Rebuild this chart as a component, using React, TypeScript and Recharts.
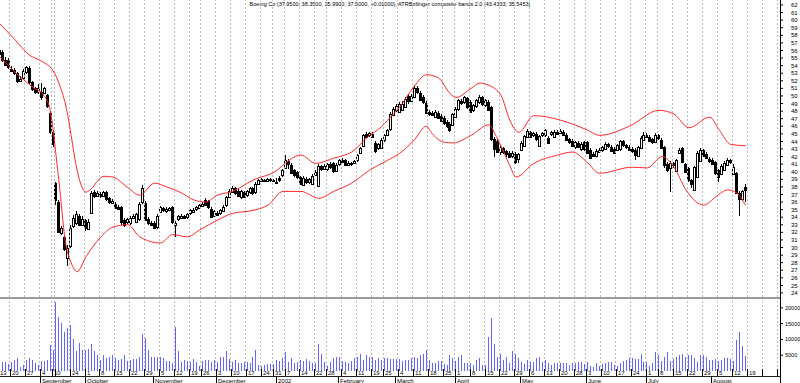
import { ComposedChart, Bar, Line, XAxis, YAxis, ReferenceLine } from "recharts";

// calendar: first trading day label of each week and trading days in it
const weekLabels = [
  "13", "20", "27",
  "4", "10", "17", "24",
  "1", "8", "15", "22", "29",
  "5", "12", "19", "26",
  "3", "10", "17", "24", "31",
  "7", "14", "22", "28",
  "4", "11", "19", "25",
  "4", "11", "18", "25",
  "1", "8", "15", "22", "29",
  "6", "13", "20", "28",
  "3", "10", "17", "24",
  "1", "8", "15", "22", "29",
  "5", "12", "19", "26",
  "3",
];
const weekLens = [
  5, 5, 5,
  4, 1, 5, 5,
  5, 5, 5, 5, 5,
  5, 5, 4, 5,
  5, 5, 5, 4, 4,
  5, 5, 4, 5,
  5, 5, 4, 5,
  5, 5, 5, 4,
  5, 5, 5, 5, 5,
  5, 5, 5, 4,
  5, 5, 5, 5,
  4, 5, 5, 5, 5,
  5, 5, 5, 5,
  1,
];
const monthLabels = ["September", "October", "November", "December", "2002", "February", "March", "April", "May", "June", "July", "August"];
const monthStarts = [15, 30, 53, 74, 94, 115, 134, 154, 176, 198, 218, 240];

const opens = [
  56.6, 56.1, 55.8, 54.8, 54.7, 53.6, 53.4, 53.0, 52.0, 52.4,
  53.1, 53.7, 51.8, 51.0, 50.5, 50.5, 50.4, 50.1, 47.8, 45.2,
  38.5, 36.0, 31.9, 31.4, 28.7, 30.2, 32.8, 33.2, 34.2, 33.0,
  33.6, 32.5, 34.6, 37.3, 36.8, 37.0, 36.8, 37.3, 36.5, 36.0,
  35.8, 35.4, 35.3, 33.6, 33.3, 33.2, 33.9, 33.4, 33.8, 36.0,
  35.9, 33.7, 33.3, 33.3, 32.7, 34.7, 35.2, 34.8, 35.0, 35.3,
  33.0, 33.7, 34.0, 34.1, 34.0, 34.5, 34.8, 35.0, 35.2, 35.6,
  36.3, 36.1, 35.1, 34.2, 34.6, 34.5, 34.9, 35.5, 36.7, 37.4,
  37.8, 37.5, 36.6, 37.3, 36.9, 37.3, 37.8, 37.3, 38.4, 38.8,
  38.9, 38.8, 39.0, 38.9, 38.7, 39.2, 39.5, 40.6, 41.4, 40.9,
  40.2, 39.9, 39.3, 38.3, 39.0, 38.6, 38.4, 39.6, 38.2, 40.7,
  40.4, 40.3, 41.0, 41.1, 40.1, 41.0, 41.5, 41.5, 41.0, 41.1,
  41.2, 41.5, 42.5, 43.4, 45.0, 44.8, 45.0, 43.8, 43.1, 43.2,
  44.1, 44.9, 45.6, 47.5, 48.2, 47.9, 48.2, 48.6, 50.0, 49.4,
  49.9, 51.0, 50.4, 49.9, 49.1, 47.9, 47.7, 47.3, 47.8, 47.4,
  47.1, 46.5, 46.3, 46.2, 47.3, 48.2, 49.3, 49.2, 49.7, 49.2,
  48.1, 48.6, 49.2, 49.8, 48.8, 49.2, 48.5, 44.3, 44.1, 42.6,
  43.1, 42.7, 42.5, 42.1, 42.4, 41.6, 42.9, 43.4, 44.6, 45.2,
  44.8, 45.0, 43.4, 44.8, 44.8, 44.5, 44.9, 44.6, 45.3, 45.2,
  45.3, 44.9, 44.3, 44.1, 43.2, 43.8, 43.0, 43.9, 43.9, 42.9,
  42.4, 42.1, 42.7, 42.8, 43.1, 43.6, 43.3, 43.0, 42.9, 42.9,
  44.0, 43.5, 43.3, 43.0, 42.9, 42.0, 43.2, 44.3, 44.8, 44.6,
  44.3, 44.0, 44.8, 44.2, 43.3, 41.0, 40.6, 41.1, 40.0, 42.5,
  43.1, 41.0, 40.5, 38.9, 37.6, 39.3, 41.4, 42.9, 42.4, 41.7,
  41.6, 41.3, 40.2, 39.8, 40.3, 41.0, 41.5, 39.7, 39.8, 37.2,
  36.5, 37.95,
];
const highs = [
  56.9, 56.4, 56.1, 55.2, 55.0, 53.9, 53.7, 53.2, 52.6, 53.5,
  54.0, 53.9, 52.0, 51.2, 51.6, 51.7, 51.2, 50.3, 48.0, 45.5,
  38.7, 36.3, 32.9, 31.6, 30.3, 33.0, 34.3, 34.8, 34.4, 34.2,
  33.8, 33.7, 37.5, 37.6, 37.5, 37.3, 37.5, 37.5, 36.7, 36.4,
  36.0, 35.6, 35.5, 33.9, 33.9, 34.1, 34.4, 34.6, 36.0, 38.2,
  36.1, 34.0, 33.5, 33.5, 34.4, 35.5, 35.4, 35.3, 35.4, 35.5,
  33.5, 34.3, 34.4, 34.3, 34.6, 35.1, 35.2, 35.5, 35.7, 36.0,
  36.5, 36.3, 35.3, 35.0, 34.8, 35.1, 35.6, 36.8, 37.7, 38.1,
  38.0, 37.7, 37.6, 37.5, 37.6, 38.0, 38.0, 38.6, 39.1, 39.2,
  39.1, 39.2, 39.2, 39.1, 39.2, 39.4, 40.4, 42.2, 41.7, 41.1,
  40.4, 40.1, 39.5, 39.4, 39.3, 39.2, 39.7, 40.2, 41.0, 40.9,
  41.0, 41.2, 41.3, 41.3, 41.1, 41.7, 41.8, 41.7, 41.4, 41.3,
  41.6, 42.4, 43.3, 45.0, 45.3, 45.3, 45.2, 44.0, 43.8, 44.4,
  45.0, 45.7, 47.9, 48.5, 48.9, 49.2, 49.3, 49.9, 50.3, 50.2,
  51.4, 51.3, 50.6, 50.1, 49.3, 48.2, 48.0, 48.1, 48.0, 47.6,
  47.3, 46.8, 46.5, 47.8, 48.5, 49.6, 49.6, 50.0, 49.9, 49.4,
  49.0, 49.6, 50.1, 50.0, 49.6, 49.4, 48.7, 44.6, 44.3, 43.5,
  43.3, 42.9, 42.7, 42.7, 42.6, 42.5, 44.0, 44.9, 45.6, 45.4,
  45.3, 45.2, 44.9, 45.3, 45.7, 44.7, 45.4, 45.5, 45.5, 45.6,
  45.5, 45.1, 44.5, 44.3, 44.1, 44.0, 43.9, 44.1, 44.1, 43.1,
  42.6, 43.0, 43.1, 43.4, 43.9, 43.8, 43.5, 43.2, 43.7, 44.2,
  44.2, 43.7, 43.5, 43.3, 43.1, 43.4, 44.7, 45.2, 45.1, 44.8,
  44.5, 45.1, 45.0, 44.4, 43.4, 41.3, 41.4, 41.3, 41.7, 43.1,
  43.3, 41.1, 40.6, 39.1, 40.8, 42.8, 43.1, 43.0, 42.6, 41.9,
  41.8, 41.4, 40.4, 41.0, 41.4, 41.8, 41.7, 41.0, 40.0, 37.4,
  37.6, 38.35,
];
const lows = [
  55.8, 55.3, 54.5, 54.0, 53.6, 53.1, 52.8, 51.7, 51.9, 52.2,
  52.9, 51.6, 50.7, 50.3, 50.3, 49.5, 50.2, 48.4, 45.0, 43.3,
  35.6, 31.9, 31.7, 29.5, 27.6, 30.0, 32.6, 33.0, 32.8, 32.8,
  32.2, 32.3, 34.4, 36.5, 36.6, 36.5, 36.6, 36.2, 35.8, 35.8,
  35.1, 34.9, 33.0, 32.7, 33.1, 33.0, 33.7, 33.2, 33.5, 35.8,
  33.5, 33.0, 32.8, 32.4, 32.5, 34.5, 34.7, 34.6, 34.8, 33.1,
  31.4, 33.5, 33.8, 33.7, 33.8, 34.3, 34.6, 34.8, 35.1, 35.4,
  35.5, 35.1, 33.9, 34.0, 34.2, 34.3, 34.7, 35.3, 36.5, 37.2,
  36.9, 36.6, 36.4, 36.5, 36.7, 37.1, 36.9, 37.1, 38.2, 38.6,
  38.6, 38.6, 38.7, 38.6, 38.4, 38.7, 39.3, 40.4, 40.4, 39.7,
  39.3, 39.1, 38.2, 38.1, 38.4, 38.4, 38.2, 39.4, 38.0, 40.1,
  40.2, 40.1, 40.4, 39.8, 39.9, 40.8, 41.1, 40.7, 40.8, 40.8,
  41.0, 41.3, 42.3, 43.2, 44.4, 44.6, 44.4, 42.5, 42.9, 43.0,
  43.9, 44.7, 45.4, 47.3, 47.9, 47.7, 48.0, 48.4, 49.0, 49.2,
  49.7, 50.3, 49.3, 49.0, 47.6, 47.4, 47.3, 47.1, 47.0, 46.6,
  46.2, 45.8, 45.3, 46.0, 47.1, 48.0, 48.8, 49.0, 48.3, 47.7,
  47.9, 48.4, 49.0, 48.7, 48.6, 48.0, 44.1, 41.9, 42.5, 42.2,
  42.4, 42.0, 41.8, 41.8, 41.0, 41.2, 42.7, 43.2, 44.4, 44.4,
  44.6, 44.1, 43.2, 44.6, 44.6, 43.6, 44.7, 44.4, 44.8, 45.0,
  44.7, 44.1, 43.7, 43.2, 43.0, 43.1, 42.8, 42.8, 42.3, 41.7,
  42.0, 41.9, 42.5, 42.6, 42.9, 43.1, 42.6, 42.3, 42.7, 42.7,
  43.3, 43.0, 42.7, 42.5, 41.6, 41.9, 43.0, 44.1, 44.4, 43.9,
  43.7, 43.9, 44.2, 43.0, 40.5, 40.0, 37.3, 40.5, 39.9, 42.3,
  41.1, 39.8, 38.7, 37.8, 37.5, 39.2, 41.3, 41.9, 41.7, 41.2,
  40.9, 39.6, 38.7, 39.6, 40.1, 40.8, 41.0, 39.6, 37.0, 34.1,
  36.2, 35.99,
];
const closes = [
  56.0, 55.6, 54.8, 54.2, 53.8, 53.3, 53.0, 51.9, 52.3, 53.3,
  53.8, 51.8, 50.9, 50.5, 51.0, 49.8, 51.0, 48.6, 45.3, 43.6,
  36.2, 32.1, 32.6, 29.8, 30.0, 32.6, 33.9, 34.4, 33.0, 33.8,
  32.5, 33.4, 37.2, 36.8, 37.2, 36.7, 37.3, 36.4, 36.0, 36.2,
  35.3, 35.1, 33.3, 32.9, 33.7, 33.9, 34.2, 34.4, 35.8, 37.9,
  33.7, 33.2, 33.0, 32.6, 34.2, 35.3, 34.9, 35.1, 35.2, 33.3,
  33.3, 34.1, 34.2, 33.9, 34.4, 34.9, 35.0, 35.3, 35.6, 35.8,
  35.7, 35.3, 34.1, 34.8, 34.4, 34.9, 35.4, 36.6, 37.5, 37.9,
  37.1, 36.8, 37.4, 36.7, 37.4, 37.8, 37.1, 38.4, 38.9, 39.0,
  38.8, 39.0, 38.9, 38.8, 38.6, 38.9, 40.2, 41.6, 41.0, 39.9,
  39.5, 39.3, 38.4, 39.2, 38.6, 39.0, 39.5, 40.0, 40.8, 40.3,
  40.8, 41.0, 40.6, 40.0, 40.9, 41.5, 41.3, 40.9, 41.2, 41.0,
  41.4, 42.2, 43.1, 44.8, 44.6, 45.1, 44.6, 42.7, 43.6, 44.2,
  44.8, 45.5, 47.6, 48.3, 48.7, 48.9, 49.0, 49.6, 49.3, 50.0,
  51.1, 50.5, 49.5, 49.2, 47.8, 47.6, 47.5, 47.9, 47.2, 46.8,
  46.4, 46.0, 45.5, 47.6, 48.3, 49.4, 49.0, 49.8, 48.5, 47.9,
  48.8, 49.4, 49.9, 48.9, 49.4, 48.2, 44.3, 43.0, 42.7, 43.2,
  42.6, 42.3, 42.0, 42.5, 41.4, 42.3, 43.8, 44.7, 45.4, 44.6,
  45.1, 44.3, 44.7, 45.1, 45.5, 43.8, 45.2, 45.3, 45.0, 45.4,
  44.9, 44.3, 43.9, 43.4, 43.9, 43.3, 43.7, 43.0, 42.5, 41.9,
  42.2, 42.8, 42.9, 43.2, 43.7, 43.3, 42.8, 42.5, 43.5, 44.0,
  43.5, 43.2, 42.9, 42.8, 42.2, 43.2, 44.5, 44.9, 44.6, 44.1,
  43.9, 44.9, 44.4, 43.2, 40.9, 40.2, 41.2, 40.8, 41.5, 42.9,
  41.3, 40.0, 38.9, 38.4, 40.6, 42.5, 42.9, 42.1, 41.9, 41.4,
  41.1, 39.8, 39.3, 40.8, 41.2, 41.6, 41.3, 40.6, 37.2, 36.4,
  37.49, 37.5,
];
const volumes = [
  3000, 3000, 2900, 2900, 2100, 2900, 3400, 4000, 1400, 1900,
  3400, 4200, 3400, 2400, 1900, 3100, 3100, 3600, 8200, 6600,
  21700, 17100, 15200, 12200, 13500, 14500, 10100, 6300, 9000, 6600,
  6800, 6900, 8700, 6300, 5000, 3400, 5000, 4200, 4500, 5200,
  4000, 3400, 3800, 5200, 3100, 3400, 3800, 3800, 4500, 11600,
  10300, 6600, 4300, 4300, 4300, 4500, 4000, 3100, 3100, 2400,
  14000, 6300, 2700, 3400, 3100, 2900, 3700, 2700, 1600, 3100,
  3400, 3400, 2900, 3400, 2700, 4500, 4500, 6300, 3800, 2700,
  3600, 2400, 2400, 2700, 2900, 2400, 4500, 6800, 1900, 1600,
  1900, 2100, 2100, 2100, 3400, 3100, 4000, 5900, 2700, 4000,
  2400, 2700, 3400, 3100, 3800, 3100, 2400, 2400, 8700, 5500,
  2700, 1600, 2900, 4000, 4300, 4300, 3100, 2900, 2400, 3100,
  4000, 4500, 5500, 3400, 5000, 4500, 4500, 3400, 4000, 3400,
  4000, 4000, 3800, 3800, 3800, 3800, 3100, 3400, 3400, 4000,
  4500, 4000, 5000, 5500, 6600, 3400, 2400, 2400, 3100, 3100,
  2100, 1900, 5000, 4000, 3100, 4500, 5000, 2400, 2400, 2400,
  1900, 3400, 4000, 1900, 1900, 10800, 16800, 8700, 4500, 5500,
  3400, 4500, 2400, 6300, 5500, 4200, 2700, 2100, 3400, 2700,
  2700, 4200, 4500, 2700, 3400, 2400, 1900, 2400, 2400, 2400,
  2400, 2400, 1900, 2400, 2400, 2700, 2700, 2100, 2700, 1600,
  1300, 2400, 1600, 2100, 2400, 2700, 2700, 1800, 1600, 2400,
  3100, 3400, 4000, 4000, 3800, 3800, 5500, 2700, 2700, 1600,
  2400, 6100, 5000, 3100, 4500, 5900, 3100, 3800, 4500, 5000,
  5500, 4500, 5000, 5000, 4000, 2900, 5200, 5000, 4500, 3400,
  3400, 3800, 3100, 3400, 4000, 4000, 3800, 3100, 9800, 12400,
  7800, 4700,
];

// band values read at [day index, price]
const upperBand: [number, number][] = [
  [0, 60.0], [6, 57.5], [11, 55.4], [15, 54.6], [19, 53.3], [21, 51.6], [24, 47.2], [25, 44.8],
  [27, 40.2], [30, 37.3], [31, 37.5], [36, 39.4], [39, 39.3], [44, 37.9], [48, 36.9], [53, 38.5],
  [57, 38.0], [62, 37.2], [66, 36.3], [70, 36.0], [74, 36.9], [79, 37.4], [86, 38.9], [94, 40.2],
  [97, 41.2], [102, 42.2], [107, 41.1], [113, 41.8], [119, 42.6], [125, 44.8], [128, 45.6],
  [132, 47.2], [135, 48.5], [140, 51.3], [144, 52.8], [148, 52.4], [152, 50.3], [154, 49.8],
  [159, 51.0], [162, 51.7], [165, 51.4], [169, 50.1], [172, 46.8], [175, 45.2], [180, 47.4],
  [189, 46.8], [198, 45.5], [202, 44.8], [212, 46.0], [222, 48.1], [227, 47.6], [232, 45.8],
  [239, 47.2], [242, 45.6], [246, 43.6], [251, 43.43],
];
const lowerBand: [number, number][] = [
  [0, 55.6], [8, 52.5], [12, 51.2], [16, 50.0], [18, 48.1], [19, 45.5], [20, 42.0], [21, 38.5],
  [23, 31.0], [25, 28.0], [27, 26.8], [30, 28.8], [35, 31.4], [39, 32.7], [44, 33.0], [48, 31.4],
  [55, 30.6], [59, 31.7], [64, 31.4], [68, 32.3], [74, 33.6], [79, 34.5], [86, 34.9], [91, 35.6],
  [96, 37.4], [102, 37.4], [108, 36.5], [113, 37.4], [119, 38.5], [125, 40.2], [131, 41.5],
  [135, 42.4], [140, 44.2], [144, 46.0], [146, 45.0], [150, 43.9], [153, 43.8], [159, 44.8],
  [165, 46.2], [167, 45.0], [169, 43.4], [172, 40.8], [174, 39.3], [180, 41.1], [188, 42.2],
  [193, 42.6], [198, 41.2], [202, 39.8], [213, 40.6], [218, 40.5], [223, 42.0], [227, 40.6],
  [231, 37.6], [237, 35.6], [241, 36.7], [245, 37.6], [248, 37.2], [251, 35.55],
];

const priceTicks = [24, 25, 26, 27, 28, 29, 30, 31, 32, 33, 34, 35, 36, 37, 38, 39, 40, 41, 42, 43, 44, 45, 46, 47, 48, 49, 50, 51, 52, 53, 54, 55, 56, 57, 58, 59, 60, 61, 62];
const volumeTicks = [5000, 10000, 15000, 20000];

const FONT = "'Liberation Sans', Arial, sans-serif";
const PLOT_W = 785;
const SHIFT = 5; // chart svg starts 5px left of the page edge
const slotCount = weekLens.reduce((a, b) => a + b, 0);
const BAND = PLOT_W / slotCount;

const weekStarts: number[] = [];
weekLens.reduce((acc, n) => {
  weekStarts.push(acc);
  return acc + n;
}, 0);
const weekAt = new Map(weekStarts.map((s, k) => [s, k]));
const monthAt = new Map(monthStarts.map((s, k) => [s, monthLabels[k]]));
const axisTicks = Array.from(new Set([...weekStarts, ...monthStarts])).sort((a, b) => a - b);

const upperAt = new Map(upperBand);
const lowerAt = new Map(lowerBand);

const rows = Array.from({ length: slotCount }, (_, i) => {
  const has = i < closes.length;
  return {
    i,
    range: has ? [lows[i], highs[i]] : null,
    open: opens[i],
    high: highs[i],
    low: lows[i],
    close: closes[i],
    vol: has ? volumes[i] : null,
    upper: upperAt.get(i) ?? null,
    lower: lowerAt.get(i) ?? null,
  };
});

function Candle(props: any) {
  const { x, y, width, height, payload } = props;
  if (!payload || payload.range == null) return null;
  const top = Math.min(y, y + height);
  const h = Math.abs(height);
  const span = payload.high - payload.low;
  const py = (v: number) => (span ? top + ((payload.high - v) / span) * h : top);
  const cx = Math.floor(x + width / 2) + 0.5;
  const yo = py(payload.open);
  const yc = py(payload.close);
  const up = payload.close >= payload.open;
  const bt = Math.round(Math.min(yo, yc)) + 0.5;
  const bh = Math.max(1, Math.round(Math.abs(yc - yo)));
  return (
    <g shapeRendering="crispEdges">
      <line x1={cx} x2={cx} y1={top} y2={top + h} stroke="#000" strokeWidth={1} />
      <rect x={cx - 1} y={bt} width={2} height={bh} fill={up ? "#fff" : "#000"} stroke="#000" strokeWidth={1} />
    </g>
  );
}

function VolBar(props: any) {
  const { x, y, width, height } = props;
  if (!height) return null;
  const cx = Math.floor(x + width / 2);
  return <rect x={cx} y={y} width={1} height={height} fill="#6464ff" shapeRendering="crispEdges" />;
}

function DateTick(props: any) {
  const { x, payload } = props;
  const i = payload.value as number;
  const gx = Math.round(x - BAND / 2) + 0.5;
  const k = weekAt.get(i);
  const month = monthAt.get(i);
  const showDay = k !== undefined && !(k > 0 && weekLens[k - 1] < 2) && gx < 765;
  return (
    <g fontFamily={FONT} fontSize={6} fill="#000">
      {k !== undefined && <line x1={gx} x2={gx} y1={71} y2={78} stroke="#000" shapeRendering="crispEdges" />}
      {showDay && (
        <text x={Math.max(gx + 1.5, SHIFT)} y={77} textAnchor="start">
          {weekLabels[k!]}
        </text>
      )}
      {month && (
        <>
          <line x1={gx} x2={gx} y1={78} y2={85} stroke="#000" shapeRendering="crispEdges" />
          <text x={gx + 1.5} y={84.5} textAnchor="start">
            {month}
          </text>
        </>
      )}
    </g>
  );
}

const gridLines = weekStarts.map((s) => (
  <ReferenceLine
    key={s}
    x={s}
    position="start"
    stroke="#bcbcbc"
    strokeDasharray="2 2"
    shapeRendering="crispEdges"
    ifOverflow="extendDomain"
  />
));

export default function App() {
  return (
    <div style={{ position: "absolute", left: 0, top: 0, width: 800, height: 383, overflow: "hidden", background: "#fff" }}>
      <div
        style={{
          position: "absolute",
          left: 0,
          top: 1,
          width: 780,
          textAlign: "center",
          fontFamily: FONT,
          fontSize: 5.5,
          lineHeight: "7px",
          whiteSpace: "nowrap",
          color: "#000",
        }}
      >
        Boeing Co (37.9500, 38.3500, 35.9900, 37.5000, +0.01000), ATRBollinger composite bands  2.0 (43.4333, 35.5453)
      </div>

      <div style={{ position: "absolute", left: -SHIFT, top: 0 }}>
        <ComposedChart width={PLOT_W + 20} height={297} data={rows} margin={{ top: 0, right: 0, bottom: 0, left: 0 }}>
          <XAxis dataKey="i" type="category" hide />
          <YAxis
            orientation="right"
            width={20}
            domain={[23.47, 62.66]}
            ticks={priceTicks}
            interval={0}
            allowDataOverflow
            axisLine={false}
            tickSize={3}
            tickMargin={8}
            tickLine={{ stroke: "#000" }}
            tick={{ fontSize: 6, fill: "#000", fontFamily: FONT }}
          />
          {gridLines}
          <Bar dataKey="range" shape={<Candle />} isAnimationActive={false} />
          <Line type="monotone" dataKey="upper" stroke="#ff2828" strokeWidth={1} dot={false} activeDot={false} connectNulls isAnimationActive={false} />
          <Line type="monotone" dataKey="lower" stroke="#ff2828" strokeWidth={1} dot={false} activeDot={false} connectNulls isAnimationActive={false} />
        </ComposedChart>
      </div>

      <div style={{ position: "absolute", left: 0, top: 297, width: 780, height: 2, background: "#9a9a9a" }} />

      <div style={{ position: "absolute", left: -SHIFT, top: 298 }}>
        <ComposedChart width={PLOT_W + 20} height={85} data={rows} margin={{ top: 1, right: 0, bottom: 0, left: 0 }}>
          <XAxis
            dataKey="i"
            type="category"
            height={12}
            ticks={axisTicks}
            interval={0}
            tick={<DateTick />}
            tickLine={false}
            axisLine={false}
          />
          <YAxis
            orientation="right"
            width={20}
            domain={[0, 22800]}
            ticks={volumeTicks}
            interval={0}
            allowDataOverflow
            axisLine={false}
            tickSize={3}
            tickMargin={2}
            tickLine={{ stroke: "#000" }}
            tick={{ fontSize: 5.5, fill: "#000", fontFamily: FONT }}
          />
          {gridLines}
          <Bar dataKey="vol" shape={<VolBar />} isAnimationActive={false} />
        </ComposedChart>
      </div>

      <div style={{ position: "absolute", left: 0, top: 376, width: 780, height: 1, background: "#222" }} />
      <div style={{ position: "absolute", left: 780, top: 0, width: 1, height: 383, background: "#000" }} />
    </div>
  );
}
